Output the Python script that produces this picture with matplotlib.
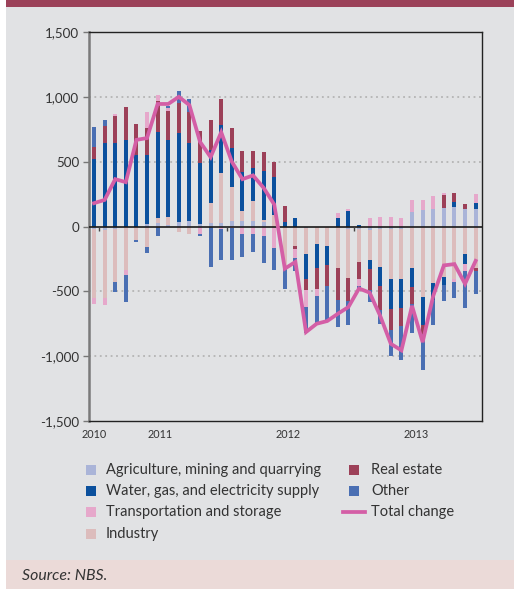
import numpy as np
import matplotlib
matplotlib.use("Agg")
import matplotlib.pyplot as plt
from matplotlib.patches import Rectangle
from matplotlib.lines import Line2D
from matplotlib.ticker import FuncFormatter

plt.rcParams['font.family'] = ['Lato', 'DejaVu Sans']

# Monthly contributions, Jul 2010 - Jul 2013 (37 months)
agriculture = [-20, -28, -20, 0, 0, 18, 28, 10, 36, 41, 18, 26, 26, 41, 41, 41, 31, 0,
               0, 0, -10, 0, 0, 0, -23, -20, -26, -21, -21, -21, 112, 126, 134, 143, 150, 134, 134]
industry = [-533, -525, -406, -339, -105, -161, 36, 66, -41, -56, 0, 153, 388, 265, 82, 153, 20, 92,
            -327, -152, -204, -137, -152, -322, -376, -255, -234, -294, -387, -387, -322, -546, -437, -390, -407, -214, -320]
water = [520, 645, 645, 668, 554, 536, 666, 592, 684, 602, 469, 413, 367, 301, 301, 260, 380, 286,
         38, 64, -193, -186, -147, 64, 118, 10, -70, -144, -232, -224, -147, -216, -126, -62, 39, -77, 46]
real_estate = [94, 130, 207, 253, 237, 209, 240, 224, 231, 241, 250, 230, 199, 150, 158, 128, 145, 122,
               122, -23, -85, -162, -162, -247, -178, -132, -157, -188, -155, -139, -131, -70, 0, 98, 67, 39, -20]
transport = [-48, -54, 15, -33, 0, 120, 43, 20, 0, 0, -56, 0, -20, -15, -59, -55, -74, -166,
             0, -66, -129, -54, 0, 39, 15, -53, 64, 72, 72, 64, 91, 77, 100, 21, -23, -54, 69]
other = [153, 46, -77, -207, -13, -41, -71, 20, 93, 103, -20, -310, -235, -245, -173, -145, -204, -173,
         -152, -101, -201, -206, -260, -206, -183, -25, -98, -108, -201, -255, -224, -271, -200, -121, -121, -283, -178]
total_change = [180, 205, 365, 342, 668, 682, 945, 945, 1000, 936, 653, 535, 727, 500, 365, 394, 298, 170,
                -325, -273, -814, -750, -729, -673, -621, -478, -510, -690, -905, -955, -612, -892, -535, -300, -290, -442, -265]

year_labels = ['2010', '2011', '2012', '2013']
year_label_pos = [0, 6.2, 18.3, 30.4]
year_marks = [0.5, 12.5, 24.5]
y_ticks = [1500, 1000, 500, 0, -500, -1000, -1500]

BG = '#e1e2e4'
TXT = '#333333'

# series drawn in stacking order; legend order kept separately
stack = [
    ('Agriculture, mining and quarrying', agriculture, '#aab4d8'),
    ('Industry', industry, '#dcbcbc'),
    ('Water, gas, and electricity supply', water, '#0b509d'),
    ('Real estate', real_estate, '#9c4058'),
    ('Transportation and storage', transport, '#e6a8cb'),
    ('Other', other, '#4a6fb3'),
]
colors = {name: c for name, _, c in stack}
legend_left = ['Agriculture, mining and quarrying', 'Water, gas, and electricity supply',
               'Transportation and storage', 'Industry']
legend_right = ['Real estate', 'Other', 'Total change']
LINE_C = '#d45ea6'

W, H = 514, 589
fig = plt.figure(figsize=(W / 100, H / 100), dpi=100)
fig.patch.set_facecolor('white')

# frame bands
fig.patches.append(Rectangle((6 / W, 29 / H), 508 / W, (560 - 7) / H, transform=fig.transFigure,
                             facecolor=BG, edgecolor='none', zorder=-10))
fig.patches.append(Rectangle((6 / W, 1 - 7 / H), 508 / W, 7 / H, transform=fig.transFigure,
                             facecolor='#9b4159', edgecolor='none', zorder=-10))
fig.patches.append(Rectangle((6 / W, 0), 508 / W, 29 / H, transform=fig.transFigure,
                             facecolor='#ebdad8', edgecolor='none', zorder=-10))

ax = fig.add_axes([88.5 / W, (H - 421) / H, (482 - 88.5) / W, (421 - 32) / H])
ax.set_facecolor(BG)

n = len(total_change)
x = np.arange(n)
pos_base = np.zeros(n)
neg_base = np.zeros(n)
for name, vals, col in stack:
    v = np.array(vals, dtype=float)
    bottom = np.where(v >= 0, pos_base, neg_base)
    ax.bar(x, v, bottom=bottom, width=0.38, color=col, linewidth=0, zorder=2)
    pos_base += np.where(v > 0, v, 0)
    neg_base += np.where(v < 0, v, 0)

ax.plot(x, total_change, color=LINE_C, lw=2.7, zorder=4, solid_joinstyle='miter')

ax.set_xlim(-0.52, 36.6)
ax.set_ylim(-1500, 1500)
for g in (-1000, -500, 500, 1000):
    ax.axhline(g, color='#b4b4b4', lw=1.3, linestyle=(0, (1, 2)), zorder=1)
ax.axhline(0, color='#1a1a1a', lw=1.2, zorder=3)
for m in year_marks:
    ax.plot([m, m], [0, -38], color='#444444', lw=1.0, zorder=3, solid_capstyle='butt')

ax.set_yticks(y_ticks)
ax.yaxis.set_major_formatter(FuncFormatter(lambda v, p: f'{int(v):,}'))
ax.tick_params(axis='y', direction='out', length=4, width=1, color='#777777',
               labelsize=9.6, labelcolor=TXT, pad=2.5)
ax.set_xticks(year_label_pos)
ax.set_xticklabels(year_labels)
ax.tick_params(axis='x', length=0, labelsize=7.8, labelcolor=TXT, pad=6)

for s in ('top', 'right', 'bottom'):
    ax.spines[s].set_color('#222222')
    ax.spines[s].set_linewidth(1.0)
ax.spines['left'].set_color('#7a7a7a')
ax.spines['left'].set_linewidth(1.8)

# legend
def fx(px):
    return px / W

def fy(py):
    return 1 - py / H

rows = [470, 491, 512, 534]
for i, name in enumerate(legend_left):
    fig.patches.append(Rectangle((fx(86), fy(rows[i] + 5)), 10 / W, 10 / H, transform=fig.transFigure,
                                 facecolor=colors[name], edgecolor='none'))
    fig.text(fx(106), fy(rows[i]), name, fontsize=10.5, color=TXT, va='center', ha='left')
for i, name in enumerate(legend_right):
    if name == 'Total change':
        fig.lines.append(Line2D([fx(343), fx(365)], [fy(rows[i]), fy(rows[i])], transform=fig.transFigure,
                                color=LINE_C, lw=2.7))
    else:
        fig.patches.append(Rectangle((fx(349), fy(rows[i] + 5)), 10 / W, 10 / H, transform=fig.transFigure,
                                     facecolor=colors[name], edgecolor='none'))
    fig.text(fx(371), fy(rows[i]), name, fontsize=10.5, color=TXT, va='center', ha='left')

fig.text(fx(22), fy(576), 'Source: NBS.', fontsize=11.4, style='italic', color=TXT, va='center', ha='left')

fig.savefig('out.png', dpi=100, facecolor=fig.get_facecolor())
